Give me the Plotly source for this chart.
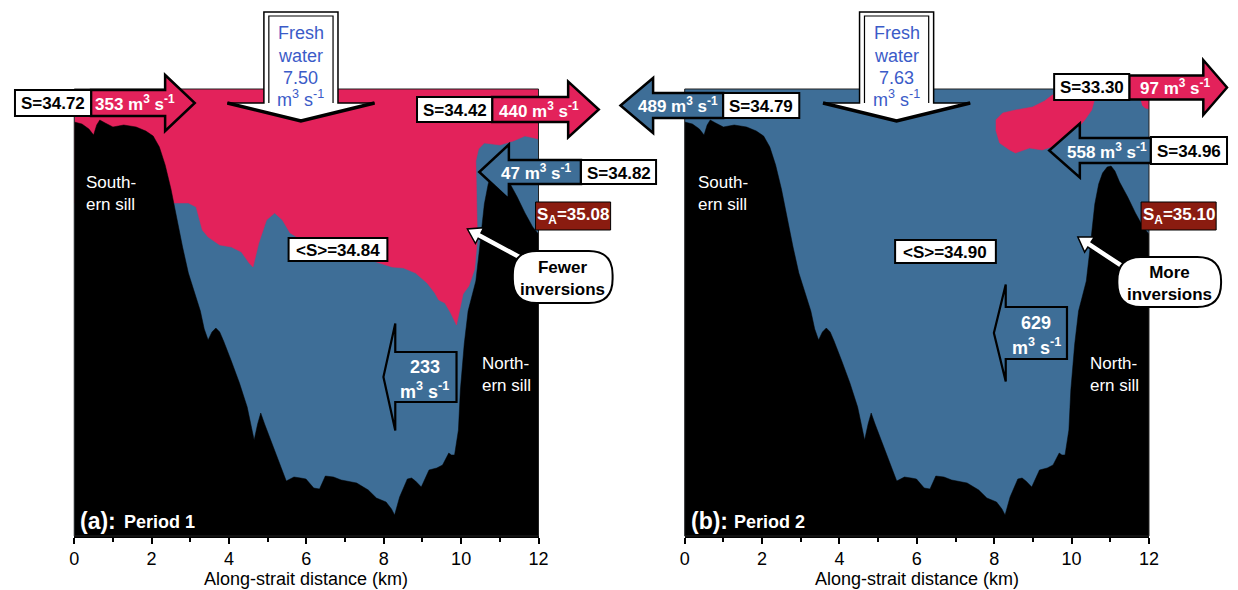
import math
import plotly.graph_objects as go

W, H = 1238, 590          # target screenshot size (pixels)
OFF = 8                   # default page margin around the plot div
FW, FH = W - OFF, H - OFF # figure size so that it fills the window exactly
RED = "#E3225B"
BLUE = "#3E6E97"
DARKRED = "#8A1C10"
FWBLUE = "#3B5BC8"
FONT = "Liberation Sans, Arial, sans-serif"

# ---------------- data ----------------
DEPTH_MAX = 447  # depth units at the bottom of the section
# along-strait bathymetry (same section in both periods)
bathy_km = [0.0, 0.2, 0.38, 0.5, 0.58, 0.66, 0.8, 1.0, 1.28, 1.6, 1.85, 2.04, 2.2, 2.35, 2.5,
            2.65, 2.8, 2.95, 3.15, 3.26, 3.36, 3.46, 3.56, 3.66, 3.76, 3.86, 4.06, 4.27, 4.47,
            4.58, 4.65, 4.74, 4.82, 4.92, 5.08, 5.28, 5.48, 5.58, 5.68, 5.85, 5.99, 6.19, 6.34,
            6.49, 6.7, 6.9, 7.3, 7.6, 7.81, 8.06, 8.2, 8.28, 8.41, 8.61, 8.72, 8.82, 8.97, 9.17,
            9.37, 9.52, 9.62, 9.68, 9.75, 9.83, 9.93, 9.98, 10.08, 10.18, 10.28, 10.38, 10.46,
            10.53, 10.6, 10.7, 10.8, 10.92, 11.02, 11.12, 11.24, 11.45, 11.65, 11.85, 12.0]
bathy_depth = [33, 35, 40, 46, 36, 31, 34, 38, 36, 38, 42, 47, 58, 76, 100,
               130, 158, 184, 208, 222, 240, 251, 243, 239, 243, 252, 272, 294, 318,
               338, 351, 335, 324, 335, 351, 372, 392, 390, 388, 389, 390, 399, 400,
               387, 388, 391, 394, 401, 409, 413, 420, 426, 408, 390, 389, 392, 398, 381,
               379, 376, 368, 364, 366, 366, 341, 301, 255, 222, 207, 192, 165,
               142, 115, 95, 84, 78, 77, 82, 93, 108, 124, 138, 145]

# Period 1: fresher (red) upper layer outline
p1_layer_km = [0, 12, 12, 11.65, 11.35, 11.0, 10.8, 10.6, 10.45, 10.38, 10.4, 10.42, 10.35,
               10.2, 10.05, 9.95, 9.88, 9.73, 9.58, 9.42, 9.32, 9.12, 8.82, 8.51, 8.21, 7.81,
               7.30, 6.79, 6.29, 5.88, 5.58, 5.38, 5.18, 4.97, 4.77, 4.62, 4.52, 4.32, 4.06,
               3.76, 3.46, 3.31, 3.15, 2.95, 2.6, 0]
p1_layer_depth = [0, 0, 50, 47, 52, 56, 55, 54, 60, 72, 110, 150, 180,
                  197, 205, 222, 236, 224, 214, 211, 204, 194, 184, 179, 178, 173,
                  164, 158, 154, 151, 144, 131, 124, 131, 154, 178, 174, 163, 158,
                  156, 148, 141, 118, 114, 114, 114]

# Period 2: fresher (red) patches
p2_patch_km = [8.04, 8.22, 8.55, 8.99, 9.3, 9.5, 10.0, 10.59, 10.59, 10.52, 10.34, 10.01,
               9.62, 9.24, 8.91, 8.55, 8.40, 8.14, 8.04]
p2_patch_depth = [31, 24, 21, 18, 12, 6, 4, 5, 11, 21, 31, 46,
                  56, 61, 59, 64, 61, 54, 41]
p2_edge_km = [11.78, 12.0, 12.0, 11.9, 11.82]
p2_edge_depth = [10, 10, 20, 19, 16]

panel_tags = ["(a):", "(b):"]
period_names = ["Period 1", "Period 2"]
freshwater_flux = ["7.50", "7.63"]
south_flux = ["353", "489"]
south_sal = ["34.72", "34.79"]
north_surface_flux = ["440", "97"]
north_surface_sal = ["34.42", "33.30"]
north_inflow_flux = ["47", "558"]
north_inflow_sal = ["34.82", "34.96"]
deep_return_flux = ["233", "629"]
mean_sal = ["34.84", "34.90"]
sa_sal = ["35.08", "35.10"]
inversion_notes = ["Fewer<br>inversions", "More<br>inversions"]
x_ticks = [0, 2, 4, 6, 8, 10, 12]
x_title = "Along-strait distance (km)"
UNIT = "m<sup>3</sup> s<sup>-1</sup>"

# ---------------- figure ----------------
fig = go.Figure()

axes = [("x", "y"), ("x2", "y2")]
for i, (xa, ya) in enumerate(axes):
    if i == 0:
        fig.add_trace(go.Scatter(x=p1_layer_km, y=p1_layer_depth, fill="toself", fillcolor=RED,
                                 mode="lines", line=dict(color=RED, width=0.5),
                                 hoverinfo="skip", showlegend=False, xaxis=xa, yaxis=ya))
    else:
        for kx, ky in [(p2_patch_km, p2_patch_depth), (p2_edge_km, p2_edge_depth)]:
            fig.add_trace(go.Scatter(x=kx, y=ky, fill="toself", fillcolor=RED,
                                     mode="lines", line=dict(color=RED, width=0.5),
                                     hoverinfo="skip", showlegend=False, xaxis=xa, yaxis=ya))
    fig.add_trace(go.Scatter(x=bathy_km + [12, 0], y=bathy_depth + [DEPTH_MAX + 20, DEPTH_MAX + 20],
                             fill="toself", fillcolor="black", mode="lines",
                             line=dict(color="black", width=0.5),
                             hoverinfo="skip", showlegend=False, xaxis=xa, yaxis=ya))

# ---------------- annotation helpers (window-pixel layout) ----------------
shapes = []
annots = []


def fx(p):
    return (p - OFF) / FW


def fy(p):
    return 1 - (p - OFF) / FH


def pth(pts, closed=True):
    s = "M" + "L".join(f"{fx(x):.5f},{fy(y):.5f}" for x, y in pts)
    return s + ("Z" if closed else "")


def add_path(pts, fill="rgba(0,0,0,0)", color="black", lw=2, closed=True):
    shapes.append(dict(type="path", xref="paper", yref="paper", path=pth(pts, closed),
                       fillcolor=fill, line=dict(color=color, width=lw), layer="above"))


def add_rect(x0, y0, x1, y1, fill, color="black", lw=2):
    shapes.append(dict(type="rect", xref="paper", yref="paper", x0=fx(x0), x1=fx(x1),
                       y0=fy(y1), y1=fy(y0), fillcolor=fill,
                       line=dict(color=color, width=lw), layer="above"))


def add_text(x, y, text, size=16, color="black", bold=False, xanchor="center", align="center"):
    annots.append(dict(x=fx(x), y=fy(y), xref="paper", yref="paper",
                       text=f"<b>{text}</b>" if bold else text, showarrow=False,
                       font=dict(family=FONT, size=size, color=color),
                       xanchor=xanchor, yanchor="middle", align=align))


def harrow(x_tail, x_base, x_tip, ym, bh, hh):
    return [(x_tail, ym - bh / 2), (x_base, ym - bh / 2), (x_base, ym - hh / 2), (x_tip, ym),
            (x_base, ym + hh / 2), (x_base, ym + bh / 2), (x_tail, ym + bh / 2)]


def flux_arrow(x_tail, x_base, x_tip, ym, bh, hh, color, label, lx):
    add_path(harrow(x_tail, x_base, x_tip, ym, bh, hh), fill=color, lw=2.5)
    add_text(lx, ym, f"{label} {UNIT}", 17, "white", bold=True)


def sal_box(x0, x1, ym, bh, val):
    add_rect(x0, ym - bh / 2, x1, ym + bh / 2, "white", lw=2)
    add_text((x0 + x1) / 2, ym + 1, f"S={val}", 17, "black", bold=True)


def fresh_arrow(xc, val):
    sw, hw = 37.5, 74.5
    outer = [(xc - sw, 12), (xc + sw, 12), (xc + sw, 103), (xc + hw, 103), (xc, 121),
             (xc - hw, 103), (xc - sw, 103)]
    add_path(outer, fill="white", lw=1.5)
    add_path([(xc - sw + 5, 103), (xc - sw + 5, 16), (xc + sw - 5, 16), (xc + sw - 5, 103)],
             lw=1.2, closed=False)
    add_path([(xc - hw, 103), (xc, 121), (xc + hw, 103)], lw=3.5, closed=False)
    for yy, t in zip([33, 56, 78, 98], ["Fresh", "water", val, UNIT]):
        add_text(xc, yy, t, 18, FWBLUE)


def ptr_arrow(tail, tip, sw=3, hw=9, hl=14):
    dx, dy = tip[0] - tail[0], tip[1] - tail[1]
    L = math.hypot(dx, dy)
    ux, uy = dx / L, dy / L
    nx, ny = -uy, ux
    bx, by = tip[0] - ux * hl, tip[1] - uy * hl
    pts = [(tail[0] + nx * sw, tail[1] + ny * sw), (bx + nx * sw, by + ny * sw),
           (bx + nx * hw, by + ny * hw), tip, (bx - nx * hw, by - ny * hw),
           (bx - nx * sw, by - ny * sw), (tail[0] - nx * sw, tail[1] - ny * sw)]
    add_path(pts, fill="white", lw=1.5)


def bubble(x0, y0, x1, y1, r, text):
    p = (f"M{fx(x0 + r)},{fy(y0)}L{fx(x1 - r)},{fy(y0)}Q{fx(x1)},{fy(y0)} {fx(x1)},{fy(y0 + r)}"
         f"L{fx(x1)},{fy(y1 - r)}Q{fx(x1)},{fy(y1)} {fx(x1 - r)},{fy(y1)}"
         f"L{fx(x0 + r)},{fy(y1)}Q{fx(x0)},{fy(y1)} {fx(x0)},{fy(y1 - r)}"
         f"L{fx(x0)},{fy(y0 + r)}Q{fx(x0)},{fy(y0)} {fx(x0 + r)},{fy(y0)}Z")
    shapes.append(dict(type="path", xref="paper", yref="paper", path=p, fillcolor="white",
                       line=dict(color="black", width=2), layer="above"))
    add_text((x0 + x1) / 2, (y0 + y1) / 2 + 1, text, 17, "black", bold=True)


def deep_arrow(x_tip, x_base, x_tail, ym, bh, hh, val, lx):
    add_path(harrow(x_tail, x_base, x_tip, ym, bh, hh), lw=2.2)
    add_text(lx, ym - 10, val, 18, "white", bold=True)
    add_text(lx, ym + 13, UNIT, 18, "white", bold=True)


# plot frames (thin top/right border) and axis titles
for x0 in [70, 688]:
    add_rect(x0, 89, x0 + 470, 536, "rgba(0,0,0,0)", color="#222222", lw=1)
    add_text(x0 + 235, 579, x_title, 18, "black")

# ---- panel (a) ----
fresh_arrow(299.5, freshwater_flux[0])
flux_arrow(87, 162, 192, 103, 26, 56, RED, south_flux[0], 132)
sal_box(10, 87, 103, 26, south_sal[0])
flux_arrow(493, 570, 601, 109.5, 25, 56, RED, north_surface_flux[0], 540)
sal_box(417, 493, 109.5, 25, north_surface_sal[0])
flux_arrow(583, 510, 480, 172, 24, 55, BLUE, north_inflow_flux[0], 538)
sal_box(583, 659, 172, 24, north_inflow_sal[0])
add_rect(537, 202, 613, 230, DARKRED, lw=1)
add_text(575, 216, f"S<sub>A</sub>={sa_sal[0]}", 17, "white", bold=True)
add_rect(287, 238, 387, 261, "white", lw=2)
add_text(337, 250, f"&lt;S&gt;={mean_sal[0]}", 17, "black", bold=True)
ptr_arrow((545, 270), (468, 229))
bubble(514, 251, 615, 303, 24, inversion_notes[0])
deep_arrow(383, 395, 457, 377, 50, 107, deep_return_flux[0], 425)
add_text(80, 194, "South-<br>ern sill", 17, "white", xanchor="left", align="left")
add_text(481, 374, "North-<br>ern sill", 17, "white", xanchor="left", align="left")
add_text(74, 521, f"<b>{panel_tags[0]}</b>", 23, "white", xanchor="left")
add_text(118, 522, f"<b>{period_names[0]}</b>", 18, "white", xanchor="left")

# ---- panel (b) ----
fresh_arrow(902.5, freshwater_flux[1])
flux_arrow(727, 656, 623, 105.5, 25, 55, BLUE, south_flux[1], 681)
sal_box(727, 804, 105.5, 25, south_sal[1])
flux_arrow(1138, 1213, 1237, 87.5, 24, 55, RED, north_surface_flux[1], 1185)
sal_box(1062, 1138, 87, 26, north_surface_sal[1])
flux_arrow(1160, 1088, 1057, 150.5, 25, 54, BLUE, north_inflow_flux[1], 1115)
sal_box(1160, 1237, 150.5, 27, north_inflow_sal[1])
add_rect(1150, 202, 1226, 230, DARKRED, lw=1)
add_text(1188, 216, f"S<sub>A</sub>={sa_sal[1]}", 17, "white", bold=True)
add_rect(901, 240, 1003, 263, "white", lw=2)
add_text(952, 252, f"&lt;S&gt;={mean_sal[1]}", 17, "black", bold=True)
ptr_arrow((1140, 272), (1086, 237))
bubble(1126, 257, 1231, 307, 24, inversion_notes[1])
deep_arrow(1001, 1013, 1075, 333, 52, 97, deep_return_flux[1], 1044)
add_text(699, 194, "South-<br>ern sill", 17, "white", xanchor="left", align="left")
add_text(1096, 374, "North-<br>ern sill", 17, "white", xanchor="left", align="left")
add_text(692, 521, f"<b>{panel_tags[1]}</b>", 23, "white", xanchor="left")
add_text(736, 522, f"<b>{period_names[1]}</b>", 18, "white", xanchor="left")

xcommon = dict(range=[0, 12], tickvals=x_ticks, ticktext=[str(t) for t in x_ticks],
               showgrid=False, zeroline=False, showline=True, linecolor="black", linewidth=1.5,
               ticks="outside", ticklen=6, tickwidth=1.5, tickcolor="black",
               minor=dict(dtick=1, ticks="outside", ticklen=4, tickwidth=1.5, tickcolor="black"),
               tickfont=dict(family=FONT, size=18, color="black"),
               fixedrange=True)
ycommon = dict(range=[DEPTH_MAX, 0], visible=False, showgrid=False, zeroline=False,
               domain=[fy(536), fy(89)], fixedrange=True)

fig.update_layout(
    width=FW, height=FH, margin=dict(l=0, r=0, t=0, b=0),
    paper_bgcolor="white", plot_bgcolor=BLUE,
    xaxis=dict(domain=[fx(70), fx(540)], anchor="y", **xcommon),
    xaxis2=dict(domain=[fx(688), fx(1158)], anchor="y2", **xcommon),
    yaxis=dict(anchor="x", **ycommon),
    yaxis2=dict(anchor="x2", **ycommon),
    shapes=shapes, annotations=annots, showlegend=False,
    font=dict(family=FONT),
)

fig.write_html("out.html")
